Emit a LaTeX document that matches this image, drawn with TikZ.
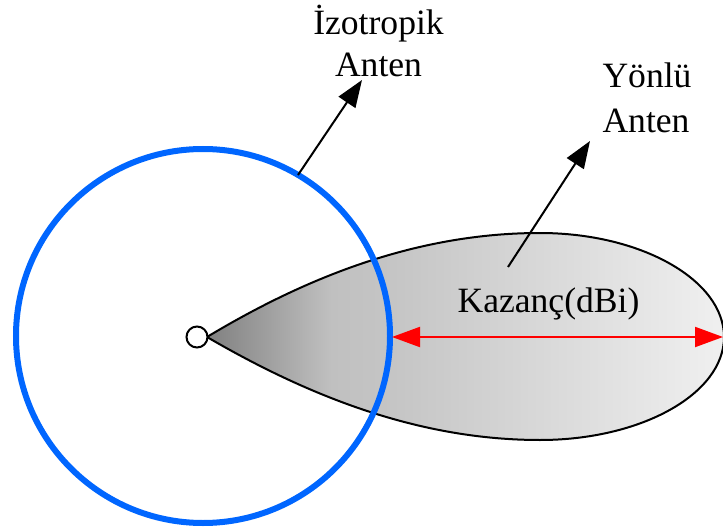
\documentclass[tikz,border=0pt]{standalone}
\usepackage{fontspec}
\setmainfont{Liberation Serif}
\usetikzlibrary{arrows.meta}
\definecolor{antblue}{RGB}{0,102,255}
\definecolor{gA}{RGB}{128,128,128}
\definecolor{gB}{RGB}{192,192,192}
\definecolor{gC}{RGB}{197,197,197}
\definecolor{gD}{RGB}{240,240,240}
\pgfdeclarehorizontalshading{lobeshade}{100bp}{color(0bp)=(gA); color(25bp)=(gA); color(37bp)=(gB); color(43bp)=(gC); color(75bp)=(gD); color(100bp)=(gD)}
\tikzset{
  lbl/.style={font=\fontsize{35.6}{43}\selectfont, anchor=base, inner sep=0pt},
  ptr/.style={line width=2pt, -{Triangle[length=27pt,width=20pt]}},
  gainarrow/.style={red, line width=2pt, {Triangle[length=28pt,width=20pt]}-{Triangle[length=28pt,width=20pt]}},
  isocircle/.style={draw=antblue, line width=6pt},
  lobe/.style={draw=black, line width=2pt, shading=lobeshade},
  origin/.style={circle, draw=black, fill=white, line width=2pt, minimum size=21pt, inner sep=0pt}
}
\begin{document}
\begin{tikzpicture}[x=1pt,y=-1pt]
\useasboundingbox (0,0) rectangle (723,532);
% directional lobe
\path[lobe] (207,337) .. controls (310,275) and (420,233) .. (540,233)
  .. controls (641,233) and (724,280) .. (724,337)
  .. controls (724,394) and (641,440) .. (540,440)
  .. controls (420,440) and (310,397) .. (207,337) -- cycle;
% isotropic circle
\node[isocircle, circle, minimum size=374pt, inner sep=0pt] (iso) at (203,336) {};
% labels
\node[lbl] (iso1) at (378.5,35) {İzotropik};
\node[lbl] (iso2) at (378.5,77) {Anten};
\node[lbl] (dir1) at (647,88) {Yönlü};
\node[lbl] (dir2) at (646,133) {Anten};
\node[lbl] (gain) at (548.5,312) {Kazanç(dBi)};
% pointer coordinates
\coordinate (isoTail) at (298,175);
\coordinate (isoTip) at (362,80);
\coordinate (dirTail) at (508,267);
\coordinate (dirTip) at (590,141);
\coordinate (gainL) at (392,337);
\coordinate (gainR) at (723,337);
\draw[ptr] (isoTail) -- (isoTip);
\draw[ptr] (dirTail) -- (dirTip);
\draw[gainarrow] (gainL) -- (gainR);
% origin
\node[origin] (o) at (197,337) {};
\end{tikzpicture}
\end{document}
